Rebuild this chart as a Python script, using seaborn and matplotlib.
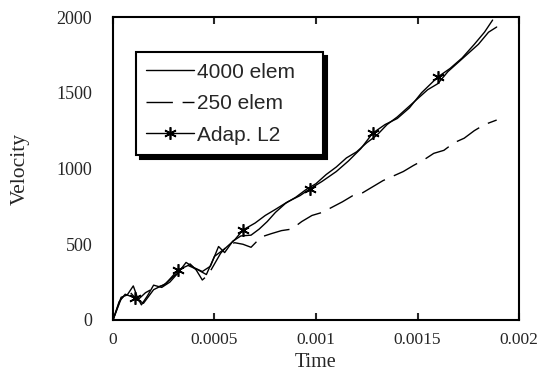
import numpy as np
import pandas as pd
import seaborn as sns
import matplotlib.pyplot as plt

# data (time in s, velocity)
t_4000 = [0, 0.00004, 0.00007, 0.0001, 0.00012, 0.00014, 0.00017, 0.0002, 0.00024, 0.00028,
          0.00032, 0.00036, 0.0004, 0.00044, 0.00048, 0.00052, 0.00055, 0.00059, 0.00063, 0.00068,
          0.00072, 0.00076, 0.0008, 0.00085, 0.0009, 0.00095, 0.001, 0.00105, 0.0011, 0.00115,
          0.0012, 0.00125, 0.0013, 0.00135, 0.0014, 0.00145, 0.0015, 0.00155, 0.0016, 0.00165,
          0.0017, 0.00175, 0.0018, 0.00185, 0.00189]
v_4000 = [0, 150, 165, 225, 150, 100, 160, 230, 215, 250,
          310, 380, 345, 320, 355, 485, 445, 520, 555, 560,
          600, 650, 710, 770, 810, 860, 900, 960, 1010, 1070,
          1110, 1170, 1220, 1290, 1340, 1400, 1460, 1520, 1560, 1640,
          1700, 1760, 1820, 1900, 1934]

t_250 = [0, 0.00004, 0.00008, 0.00012, 0.00016, 0.0002, 0.00025, 0.0003, 0.00035, 0.00038,
         0.00041, 0.00044, 0.00047, 0.0005, 0.00053, 0.00057, 0.0006, 0.00064, 0.00068, 0.00073,
         0.00078, 0.00083, 0.00088, 0.00093, 0.00098, 0.00103, 0.00108, 0.00113, 0.00118, 0.00123,
         0.00128, 0.00133, 0.00138, 0.00143, 0.00148, 0.00153, 0.00158, 0.00163, 0.00168, 0.00173,
         0.00178, 0.00183, 0.00189]
v_250 = [0, 140, 190, 130, 180, 210, 230, 290, 340, 370,
         330, 264, 300, 370, 440, 500, 510, 500, 480, 548,
         570, 590, 600, 650, 690, 710, 745, 780, 820, 840,
         880, 920, 950, 980, 1020, 1056, 1100, 1120, 1170, 1200,
         1250, 1290, 1320]

t_adap = [0, 0.00003, 0.00006, 0.00011, 0.00015, 0.0002, 0.00026, 0.00032, 0.00037, 0.00042,
          0.00046, 0.0005, 0.00055, 0.0006, 0.00064, 0.0007, 0.00075, 0.0008, 0.00086, 0.00092,
          0.00097, 0.00103, 0.0011, 0.00116, 0.00122, 0.00128, 0.00134, 0.0014, 0.00146, 0.00152,
          0.0016, 0.00166, 0.00172, 0.00178, 0.00183, 0.00187]
v_adap = [0, 120, 170, 145, 110, 200, 240, 330, 360, 330,
          300, 420, 470, 530, 594, 640, 690, 730, 780, 820,
          865, 915, 980, 1050, 1130, 1234, 1290, 1330, 1400, 1500,
          1604, 1660, 1730, 1820, 1900, 1980]
star_idx = [3, 7, 14, 20, 25, 30]

sns.set_style("ticks")
plt.rcParams['font.family'] = ['Liberation Serif', 'DejaVu Serif']

fig = plt.figure(figsize=(5.37, 3.74), dpi=100)
ax = fig.add_axes([0.2104, 0.1444, 0.7561, 0.8101])

sns.lineplot(x=t_4000, y=v_4000, ax=ax, sort=False, label='4000 elem   ')
sns.lineplot(x=t_250, y=v_250, ax=ax, sort=False, label='250 elem')
sns.lineplot(x=t_adap, y=v_adap, ax=ax, sort=False, label='Adap. L2')

# style the lines after seaborn has drawn them
l4000, l250, ladap = ax.lines[:3]
for ln in (l4000, l250, ladap):
    ln.set_color('black')
    ln.set_linewidth(1.0)
    ln.set_linestyle('-')
l250.set_linestyle((0, (19, 7)))
ladap.set_marker((6, 2, 0))
ladap.set_markersize(9)
ladap.set_markeredgewidth(1.2)
ladap.set_markeredgecolor('black')
ladap.set_markevery(star_idx)

ax.set_xlim(0, 0.002)
ax.set_ylim(0, 2000)
ax.set_xticks([0, 0.0005, 0.001, 0.0015, 0.002])
ax.set_xticklabels(['0', '0.0005', '0.001', '0.0015', '0.002'])
ax.set_yticks([0, 500, 1000, 1500, 2000])
ax.set_xlabel('Time', fontsize=14.5, labelpad=3)
ax.set_ylabel('Velocity', fontsize=15.5, labelpad=19)
ax.tick_params(axis='x', direction='in', top=True, length=5, width=1.5, labelsize=12.5, pad=9)
ax.tick_params(axis='y', length=0, labelsize=13, pad=15)
for s in ax.spines.values():
    s.set_visible(True)
    s.set_linewidth(1.5)
    s.set_color('black')

leg = ax.legend(loc='upper left', bbox_to_anchor=(0.056, 0.884), borderaxespad=0,
                frameon=True, fancybox=False, shadow={'color': 'black', 'alpha': 1, 'ox': 3, 'oy': -3},
                prop={'family': 'Liberation Sans', 'size': 15}, handlelength=2.3,
                handletextpad=0.15, labelspacing=0.6, borderpad=0.5)
leg.get_frame().set_edgecolor('black')
leg.get_frame().set_linewidth(1.5)

fig.savefig('out.png', dpi=100)
